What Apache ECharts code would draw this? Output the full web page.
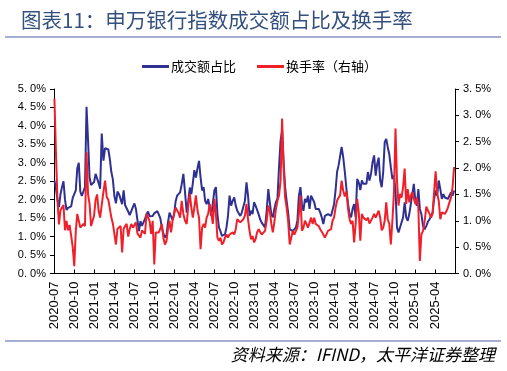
<!DOCTYPE html>
<html><head><meta charset="utf-8">
<script src="https://cdn.jsdelivr.net/npm/echarts@6/dist/echarts.min.js"></script>
<style>html,body{margin:0;padding:0;background:#fff}#c{width:507px;height:371px}</style>
</head><body><div id="c"></div>
<script>
// weekly observations, first week ending 2020-07-03
var startDate = '2020-07-03';
// 成交额占比 (%), left axis
var turnoverShare = [
2.52,2.3,2.0,1.8,2.15,2.34,2.5,2.0,1.72,1.78,
1.75,1.82,2.05,2.05,2.25,2.85,3.0,2.22,2.1,2.05,
2.34,4.52,3.6,2.6,2.4,2.42,2.48,2.7,2.7,2.45,
2.3,3.79,3.06,3.4,3.43,3.36,3.1,2.75,2.55,2.1,
1.9,2.22,2.15,2.18,1.88,2.25,1.85,1.86,1.68,1.58,
1.6,1.8,1.9,1.75,1.45,1.15,1.42,1.29,1.25,1.48,
1.6,1.68,1.55,1.5,1.56,1.63,1.67,1.69,1.6,1.5,
1.25,1.08,0.98,1.04,1.4,1.65,1.55,1.45,1.6,1.95,
2.11,2.12,2.2,2.42,2.7,2.2,1.65,1.97,2.33,2.15,
2.45,2.8,2.6,2.85,3.05,2.6,2.25,2.34,1.97,1.88,
2.02,1.97,1.56,1.52,2.25,2.34,1.61,1.25,1.15,1.02,
0.97,1.06,1.25,1.56,2.11,1.84,1.97,2.06,1.84,1.70,
1.65,1.56,1.65,1.65,1.97,2.47,2.11,1.56,1.70,1.61,
1.93,1.84,1.79,1.61,1.47,1.38,1.43,1.25,1.70,2.29,
1.93,1.61,1.52,1.75,1.93,2.02,2.88,3.6,3.88,3.02,
2.34,1.97,1.65,1.2,1.15,1.15,1.2,1.25,1.43,2.11,
2.34,1.88,1.7,2.02,1.93,2.11,1.75,2.11,2.11,1.93,
1.75,1.70,1.75,1.65,1.52,1.34,1.56,1.56,1.61,1.56,
1.56,1.61,1.88,2.25,2.75,2.93,2.97,3.43,3.15,2.75,
2.29,1.88,1.61,1.52,1.75,1.88,1.52,2.56,2.47,2.26,
2.52,2.43,2.47,2.43,2.75,2.52,2.7,3.02,3.2,2.65,
2.97,3.14,2.52,2.34,2.75,3.56,3.65,3.43,3.23,2.88,
2.56,2.65,2.25,1.25,1.11,1.06,1.38,1.52,1.93,1.52,
1.43,1.61,1.88,2.15,2.43,1.97,1.84,2.29,1.75,1.61,
1.29,1.2,1.29,1.41,1.47,1.56,1.65,2.02,2.25,2.11,
2.52,2.29,2.02,2.15,2.06,2.11,2.02,2.11,2.2,2.11,2.25
];
// 换手率 (%), right axis
var turnoverRate = [
3.32,2.3,1.4,0.93,1.2,1.22,1.3,0.82,1.0,0.82,
0.92,0.72,0.5,0.14,0.8,1.13,1.15,0.87,0.84,0.94,
0.9,2.3,1.5,1.32,0.9,0.9,1.1,1.4,1.5,1.19,
1.06,1.3,1.55,1.76,1.45,1.4,1.38,1.06,0.95,0.75,
0.55,0.85,0.82,0.9,0.4,0.85,0.9,0.94,0.7,0.85,
0.94,0.87,0.92,0.97,0.76,0.72,0.68,0.82,0.85,0.75,
1.13,1.15,1.0,0.75,1.0,0.17,0.78,0.78,0.78,0.85,
0.94,0.68,0.55,0.62,0.85,1.0,0.78,1.0,1.13,1.25,
1.2,1.15,1.06,1.38,1.13,1.0,0.94,1.3,1.51,1.25,
1.06,1.25,1.48,1.2,1.06,0.46,0.87,0.94,0.87,1.06,
1.13,1.32,1.13,0.94,1.41,1.13,0.68,0.62,0.68,0.55,
0.59,0.68,0.74,0.68,0.74,0.71,0.78,0.74,0.84,1.03,
1.06,0.97,0.94,1.03,1.1,1.32,1.03,0.81,0.65,0.71,
0.59,0.65,0.78,0.84,0.87,0.74,0.71,0.81,1.0,1.29,
1.19,0.94,0.78,0.97,1.22,1.38,1.48,1.76,2.94,2.02,
1.44,1.25,1.0,0.55,0.68,0.81,0.74,0.71,0.87,1.13,
1.48,0.81,0.87,1.0,0.94,0.87,0.87,1.06,0.94,1.06,
0.94,0.97,0.9,0.84,0.81,0.74,0.68,0.71,0.81,0.81,
0.84,1.0,1.06,1.25,1.38,1.44,1.48,1.76,1.57,1.46,
1.56,1.22,1.03,0.94,1.0,0.59,0.94,1.41,1.16,0.62,
1.13,1.06,1.09,1.01,1.06,0.95,0.97,1.06,1.13,1.06,
1.09,1.19,1.06,0.82,0.87,1.0,1.35,1.03,0.94,0.55,
1.0,1.54,2.75,1.76,1.29,1.51,1.44,1.64,1.99,1.32,
1.6,1.35,1.48,1.54,1.57,1.32,1.44,1.25,0.24,0.74,
0.81,1.0,1.27,1.19,1.13,1.06,1.13,1.54,1.94,1.51,
1.38,1.03,1.16,1.13,1.13,1.18,1.25,1.35,1.44,1.64,2.02
];
var seriesNames = ['成交额占比', '换手率（右轴）'];
var leftTicks = {min: 0, max: 5, interval: 0.5};
var rightTicks = {min: 0, max: 3.5, interval: 0.5};
var xRange = {startYear: 2020, startMonth: 7, months: 60, interval: 3};

// week dates -> months since 2020-07-01 (x axis position)
function dateAt(i){ var d = new Date(startDate + 'T00:00:00Z'); d.setUTCDate(d.getUTCDate() + 7*i); return d; }
function monthsOf(d){
  var y = d.getUTCFullYear(), m = d.getUTCMonth();
  var dim = new Date(Date.UTC(y, m+1, 0)).getUTCDate();
  return (y - xRange.startYear)*12 + (m + 1 - xRange.startMonth) + (d.getUTCDate()-1)/dim;
}
var blueData = turnoverShare.map(function(v,i){ return [monthsOf(dateAt(i)), v]; });
var redData = turnoverRate.map(function(v,i){ return [monthsOf(dateAt(i)), v]; });

function pctFmt(v){ var s = v.toFixed(1).split('.'); return s[0] + '. ' + s[1] + '%'; }
function monthLabel(v){
  var t = Math.round(v) + xRange.startMonth - 1;
  var y = xRange.startYear + Math.floor(t/12), m = t % 12 + 1;
  return y + '-' + (m < 10 ? '0' + m : m);
}

var chart = echarts.init(document.getElementById('c'), null, {renderer: 'canvas'});
var axisCommon = {
  axisLine: {show: true, lineStyle: {color: '#000', width: 1}},
  splitLine: {show: false}
};
chart.setOption({
  animation: false,
  backgroundColor: '#fff',
  title: {
    text: '图表11：申万银行指数成交额占比及换手率',
    left: 16, top: 5,
    textStyle: {fontFamily: 'Noto Sans CJK SC', fontSize: 20.5, fontWeight: 'normal', color: '#34507F'}
  },
  legend: {
    left: 137, top: 55,
    itemWidth: 27, itemHeight: 3, itemGap: 21,
    icon: 'rect',
    textStyle: {fontFamily: 'Noto Sans CJK SC', fontSize: 13, color: '#000', padding: [0,0,0,-3]},
    data: seriesNames
  },
  grid: {left: 54, right: 52, top: 89, bottom: 97.5},
  xAxis: {
    type: 'value', min: 0, max: xRange.months, interval: xRange.interval,
    axisLine: {show: true, onZero: false, lineStyle: {color: '#000', width: 1}},
    axisTick: {show: true, inside: true, length: 4, lineStyle: {color: '#000'}},
    splitLine: {show: false},
    axisLabel: {rotate: 90, margin: 8, fontSize: 13, fontFamily: 'Liberation Sans, Arial', color: '#000',
      showMaxLabel: false, formatter: monthLabel}
  },
  yAxis: [
    Object.assign({type: 'value', position: 'left', min: leftTicks.min, max: leftTicks.max, interval: leftTicks.interval,
      axisTick: {show: true, inside: false, length: 4, lineStyle: {color: '#000'}},
      axisLabel: {fontSize: 11, fontFamily: 'Liberation Sans, Arial', color: '#000', margin: 8, formatter: pctFmt}}, axisCommon),
    Object.assign({type: 'value', position: 'right', min: rightTicks.min, max: rightTicks.max, interval: rightTicks.interval,
      axisTick: {show: true, inside: false, length: 4, lineStyle: {color: '#000'}},
      axisLabel: {fontSize: 11, fontFamily: 'Liberation Sans, Arial', color: '#000', margin: 8, formatter: pctFmt}}, axisCommon)
  ],
  series: [
    {name: seriesNames[0], type: 'line', yAxisIndex: 0, data: blueData, showSymbol: false,
      lineStyle: {color: '#2E3192', width: 2}, itemStyle: {color: '#2E3192'}, z: 2},
    {name: seriesNames[1], type: 'line', yAxisIndex: 1, data: redData, showSymbol: false,
      lineStyle: {color: '#F0202A', width: 2}, itemStyle: {color: '#F0202A'}, z: 3}
  ],
  graphic: [
    {type: 'line', shape: {x1: 5, y1: 37, x2: 501, y2: 37}, style: {stroke: '#8A93C2', lineWidth: 1.5}},
    {type: 'line', shape: {x1: 5, y1: 341, x2: 501, y2: 341}, style: {stroke: '#8A93C2', lineWidth: 1.5}},
    {type: 'text', right: 12, top: 346,
      style: {text: '资料来源：IFIND，太平洋证券整理', font: 'italic 17px "Noto Sans CJK SC"', fill: '#000'}}
  ]
});
</script></body></html>
